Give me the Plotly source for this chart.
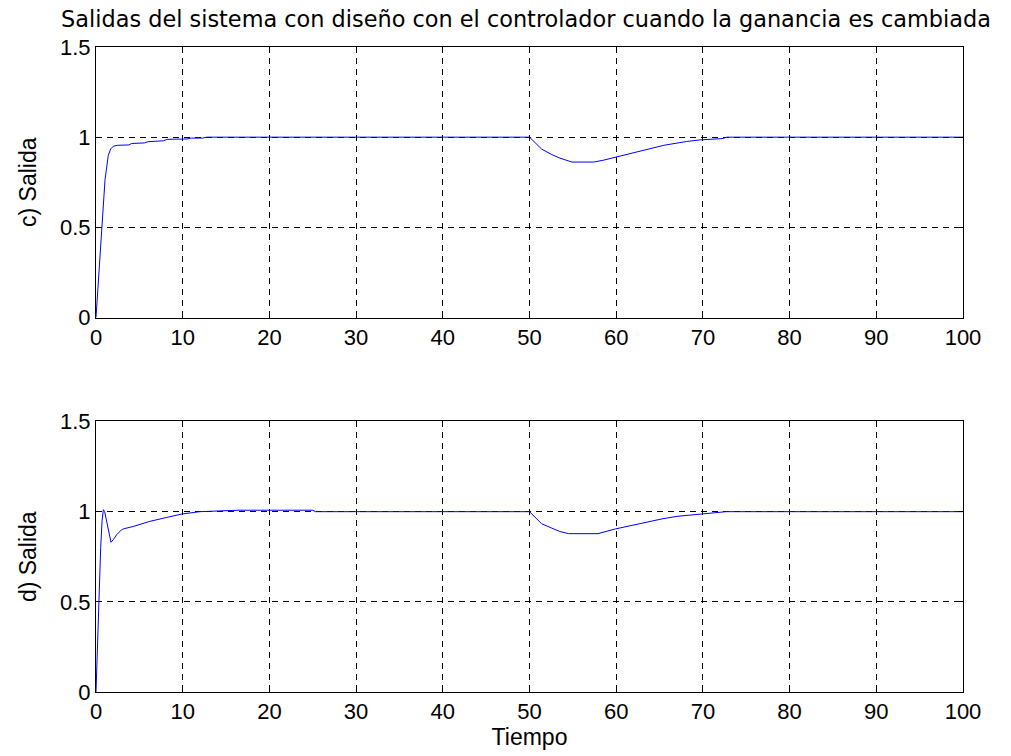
import plotly.graph_objects as go
from plotly.subplots import make_subplots

# Top subplot: c) Salida
t_c = [0, 0.3, 0.66, 1.04, 1.42, 1.7, 2.0, 2.5, 3.8, 4.1, 5.6, 6.0, 7.8, 8.2, 10.5, 11.0, 12.3, 12.8,
       50.0, 51.4, 52.5, 53.5, 54.9, 57.4, 58.5, 59.9, 61.5, 63.5, 65.5, 68.1, 69.7, 72.2, 72.8, 100]
y_c = [0, 0.23, 0.505, 0.764, 0.90, 0.935, 0.95, 0.955, 0.957, 0.965, 0.968, 0.975, 0.98, 0.988, 0.99, 0.995, 0.995, 1.0,
       1.0, 0.934, 0.905, 0.884, 0.862, 0.862, 0.872, 0.889, 0.91, 0.934, 0.955, 0.976, 0.985, 0.992, 1.0, 1.0]

# Bottom subplot: d) Salida
t_d = [0, 0.27, 0.54, 0.7, 0.85, 1.0, 1.23, 1.5, 1.73, 2.0, 2.38, 2.96, 3.2, 4.3, 6.2, 8.15, 9.9, 12.0, 15.8, 16.5, 25.0, 25.3,
       50.0, 51.4, 52.5, 53.5, 54.5, 57.9, 59.9, 61.7, 63.5, 65.3, 67.0, 69.7, 70.4, 72.7, 100]
y_d = [0, 0.428, 0.80, 0.95, 1.011, 1.0, 0.946, 0.87, 0.83, 0.845, 0.872, 0.90, 0.905, 0.918, 0.946, 0.968, 0.987, 1.0, 1.005, 1.008, 1.008, 1.0,
       1.0, 0.933, 0.91, 0.89, 0.878, 0.878, 0.904, 0.924, 0.943, 0.96, 0.974, 0.987, 0.99, 1.0, 1.0]

x_ticks = [0, 10, 20, 30, 40, 50, 60, 70, 80, 90, 100]
y_ticks = [0, 0.5, 1, 1.5]
y_tick_text = ["0", "0.5", "1", "1.5"]

title_text = "Salidas del sistema con diseño con el controlador cuando la ganancia es cambiada"
ylabel_c = "c) Salida"
ylabel_d = "d) Salida"
xlabel = "Tiempo"

fig = make_subplots(rows=2, cols=1, vertical_spacing=0.1612)
fig.add_trace(go.Scatter(x=t_c, y=y_c, mode="lines", line=dict(color="#0000ff", width=1)), row=1, col=1)
fig.add_trace(go.Scatter(x=t_d, y=y_d, mode="lines", line=dict(color="#0000ff", width=1)), row=2, col=1)

tick_font = dict(family="Liberation Sans, Arial, sans-serif", size=22, color="black")
label_font = dict(family="Liberation Sans, Arial, sans-serif", size=23, color="black")

axis_common = dict(showline=True, linecolor="black", linewidth=1, mirror="ticks", ticks="inside",
                   ticklen=5, tickcolor="black", showgrid=True, gridcolor="black", griddash="6px,5px",
                   gridwidth=0.6, zeroline=False, tickfont=tick_font)

fig.update_xaxes(range=[0, 100], tickvals=x_ticks, **axis_common)
fig.update_yaxes(range=[0, 1.5], tickvals=y_ticks, ticktext=y_tick_text, **axis_common)
fig.update_yaxes(title=dict(text=ylabel_c, font=label_font, standoff=16), row=1, col=1)
fig.update_yaxes(title=dict(text=ylabel_d, font=label_font, standoff=16), row=2, col=1)
fig.update_xaxes(title=dict(text=xlabel, font=label_font, standoff=2), row=2, col=1)

fig.update_layout(
    width=1011, height=756,
    margin=dict(l=96, r=48, t=47, b=64),
    paper_bgcolor="white", plot_bgcolor="white",
    showlegend=False,
    title=dict(text=title_text, x=526 / 1011, xanchor="center", y=1 - 19 / 756, yanchor="middle",
               font=dict(family="DejaVu Sans, sans-serif", size=22.4, color="black")),
)

fig.write_html("out.html")
